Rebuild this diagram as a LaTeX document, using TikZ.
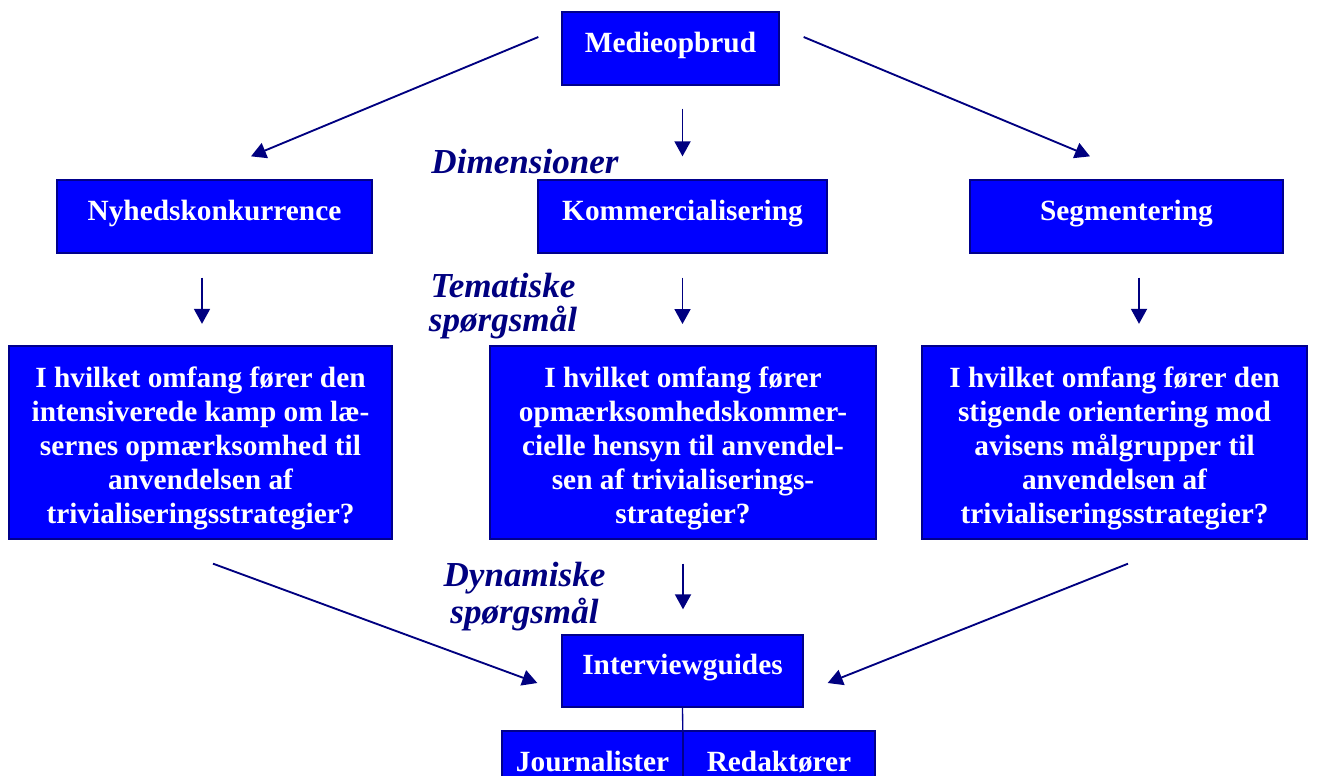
\documentclass[tikz,border=0pt]{standalone}
\usepackage{fontspec}
\setmainfont{Liberation Serif}
\usetikzlibrary{arrows.meta,calc}
\definecolor{boxblue}{RGB}{0,0,255}
\definecolor{navy}{RGB}{0,0,128}
\definecolor{edgeblue}{RGB}{0,0,140}
\newcommand{\topstrut}{\rule{0pt}{24.4pt}}
\tikzset{
  box/.style={draw=edgeblue, line width=1pt, fill=boxblue, text=white,
    font=\fontsize{22pt}{25.5pt}\selectfont\bfseries, inner sep=0pt, align=center},
  one/.style={box, text height=15.2pt, text depth=9.9pt},
  wh/.style 2 args={minimum width=#1*0.75pt, minimum height=#2*0.75pt},
  lbl/.style={text=navy, font=\fontsize{26.3pt}{25.5pt}\selectfont\bfseries\itshape,
    inner sep=0pt, align=center},
  arr/.style={draw=navy, line width=1.4pt, -{Triangle[length=11.25pt,width=12pt]}},
  link/.style={draw=edgeblue, line width=1pt},
}
\begin{document}
\begin{tikzpicture}[x=0.75pt,y=-0.75pt]
\useasboundingbox (0,0) rectangle (1320,775);
\clip (0,0) rectangle (1320,775);

\node[one, wh={217}{73}] (med) at (670.5,48.5) {Medieopbrud};
\node[one, wh={315}{73}] (nyh) at (214.5,216.5) {Nyhedskonkurrence};
\node[one, wh={289}{73}] (kom) at (682.5,216.5) {Kommercialisering};
\node[one, wh={313}{73}] (seg) at (1126.5,216.5) {Segmentering};

\node[box, wh={383}{193}] (q1) at (200.5,442.5)
  {\topstrut I hvilket omfang fører den\\intensiverede kamp om læ-\\sernes opmærksomhed til\\anvendelsen af\\trivialiseringsstrategier?};
\node[box, wh={386}{193}] (q2) at (683,442.5)
  {\topstrut I hvilket omfang fører\\opmærksomhedskommer-\\cielle hensyn til anvendel-\\sen af trivialiserings-\\strategier?};
\node[box, wh={385}{193}] (q3) at (1114.5,442.5)
  {\topstrut I hvilket omfang fører den\\stigende orientering mod\\avisens målgrupper til\\anvendelsen af\\trivialiseringsstrategier?};

\node[one, wh={241}{72}] (ig) at (682.5,671) {Interviewguides};
\node[one, wh={181}{73}] (jour) at (592.5,767.5) {Journalister};
\node[one, wh={192}{73}] (red) at (779,767.5) {Redaktører};

\node[lbl, anchor=base] (dim) at (525,173) {Dimensioner};
\node[lbl] (tem) at (503,306) {Tematiske\\spørgsmål};
\node[lbl, font=\fontsize{26.3pt}{27.75pt}\selectfont\bfseries\itshape] (dyn) at (524.5,597) {Dynamiske\\spørgsmål};

\draw[arr] ($(med.west)+(-23,-11.5)$) -- ($(nyh.north)+(36.5,-23)$);
\draw[arr] ($(med.east)+(24,-11.5)$) -- ($(seg.north)+(-36.5,-23)$);
\draw[arr, shorten <=17.25pt, shorten >=17.25pt] (kom.north |- med.south) -- (kom.north);

\draw[arr] ($(nyh.south)+(-12.5,24)$) -- ($(q1.north)+(1.5,-21.5)$);
\draw[arr, shorten <=18pt, shorten >=16pt] (kom.south) -- (kom.south |- q2.north);
\draw[arr] ($(seg.south)+(12.5,24)$) -- ($(q3.north)+(24.5,-21.5)$);

\draw[arr] ($(q1.south)+(12.5,24)$) -- ($(ig.west)+(-24,12)$);
\draw[arr, shorten <=18pt, shorten >=18.75pt] (q2.south) -- (q2.south |- ig.north);
\draw[arr] ($(q3.south)+(13.5,24)$) -- ($(ig.east)+(24,12)$);

\draw[link] (ig.south) -- (jour.south east);
\end{tikzpicture}
\end{document}
